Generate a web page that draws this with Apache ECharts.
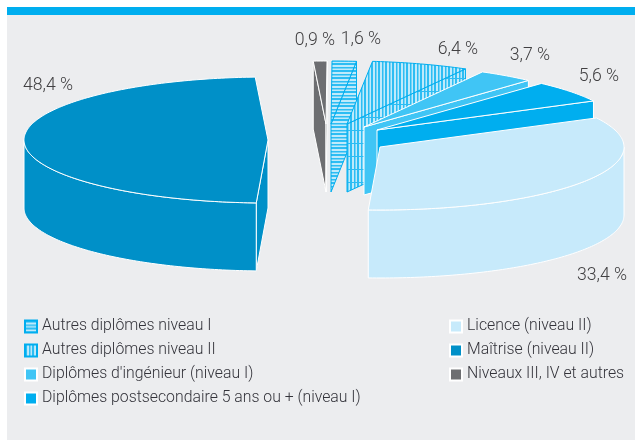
<!DOCTYPE html>
<html lang="fr">

<head>
  <meta charset="UTF-8">
  <title>Diplômes</title>
  <script src="https://cdn.jsdelivr.net/npm/echarts@6/dist/echarts.min.js"></script>
  <style>
    body { margin: 0; background: #fff; }
    #main { width: 635px; height: 441px; }
  </style>
</head>

<body>
  <div id="main"></div>
  <script>
    // clockwise order, starting from the grey slice
    let categories = [
      'Niveaux III, IV et autres',
      'Autres diplômes niveau I',
      'Autres diplômes niveau II',
      "Diplômes d'ingénieur (niveau I)",
      'Diplômes postsecondaire 5 ans ou + (niveau I)',
      'Licence (niveau II)',
      'Maîtrise (niveau II)'
    ];
    let shares = [0.9, 1.6, 6.4, 3.7, 5.6, 33.4, 48.4];

    // layout, kept apart from the data
    let legendLeft = [categories[1], categories[2], categories[3], categories[4]];
    let legendRight = [categories[5], categories[6], categories[0]];
    let firstAngle = -3;
    let rx = 244, ry = 63, depth = 68;
    let sliceCenters = [[326, 124], [331, 124], [347, 124], [364, 127], [377, 130], [380, 147], [268, 140]];
    let labelAt = [[315, 40], [361, 39], [458, 49], [530, 55], [599, 76], [602, 275], [48, 85]];
    let fontName = 'Roboto, sans-serif';

    function tile(w, h, draw) {
      let c = document.createElement('canvas');
      c.width = w;
      c.height = h;
      draw(c.getContext('2d'));
      return { image: c, repeat: 'repeat' };
    }
    let hatchH = tile(7, 7, g => {
      g.fillStyle = '#bfeafb'; g.fillRect(0, 0, 7, 7);
      g.fillStyle = '#2dbdf3'; g.fillRect(0, 0, 7, 2); g.fillRect(0, 4, 7, 1.5);
    });
    let hatchV = tile(7, 7, g => {
      g.fillStyle = '#bfeafb'; g.fillRect(0, 0, 7, 7);
      g.fillStyle = '#2dbdf3'; g.fillRect(0, 0, 2, 7); g.fillRect(4, 0, 1.5, 7);
    });
    let hatchVSide = tile(7, 13, g => {
      g.fillStyle = '#bfeafb'; g.fillRect(0, 0, 7, 13);
      g.fillStyle = '#2dbdf3'; g.fillRect(0, 0, 2, 13); g.fillRect(4, 0, 1.5, 13); g.fillRect(0, 0, 7, 1);
    });
    let fills = ['#6d6e71', hatchH, hatchV, '#40c5f5', '#00aeef', '#c7eafb', '#0090c8'];
    let sideFills = ['#6d6e71', hatchH, hatchVSide, '#40c5f5', '#00aeef', '#c7eafb', '#0090c8'];
    let edges = ['#fff', '#00aeef', '#00aeef', '#fff', '#fff', '#fff', '#fff'];

    let bounds = [];
    shares.reduce((acc, s) => {
      bounds.push([acc, acc + s * 3.6]);
      return acc + s * 3.6;
    }, firstAngle);

    function rimPoint(c, deg, drop) {
      let a = deg * Math.PI / 180;
      return [c[0] + rx * Math.sin(a), c[1] - ry * Math.cos(a) + (drop || 0)];
    }

    function arc(c, from, to, drop) {
      let pts = [];
      let n = Math.max(2, Math.ceil(Math.abs(to - from)));
      for (let i = 0; i <= n; i++) {
        pts.push(rimPoint(c, from + (to - from) * i / n, drop));
      }
      return pts;
    }

    function renderSlice(params, api) {
      let i = params.seriesIndex;
      let share = api.value(0);
      let c = sliceCenters[i];
      let start = bounds[i][0];
      let end = start + share * 3.6;
      let below = [c[0], c[1] + depth];
      let style = { fill: sideFills[i], stroke: edges[i], lineWidth: 1 };
      let children = [];

      function face(pts, st) {
        children.push({ type: 'polygon', shape: { points: pts }, style: st || style });
      }

      // cut faces that look towards the viewer
      if (Math.sin(start * Math.PI / 180) < 0) {
        face([c, rimPoint(c, start), rimPoint(c, start, depth), below]);
      }
      if (Math.sin(end * Math.PI / 180) > 0) {
        face([c, rimPoint(c, end), rimPoint(c, end, depth), below]);
      }
      // front part of the rim
      let a0 = Math.max(start, 90), a1 = Math.min(end, 270);
      if (a1 > a0) {
        face(arc(c, a0, a1).concat(arc(c, a1, a0, depth)));
      }
      // top
      face([c].concat(arc(c, start, end)), { fill: fills[i], stroke: edges[i], lineWidth: 1 });

      children.push({
        type: 'text',
        silent: true,
        x: labelAt[i][0],
        y: labelAt[i][1],
        scaleX: 0.93,
        style: {
          x: 0,
          y: 0,
          text: share.toFixed(1).replace('.', ',') + ' %',
          fill: '#414042',
          font: '300 19px ' + fontName,
          align: 'center',
          verticalAlign: 'middle'
        }
      });
      return { type: 'group', children: children };
    }

    let legendBase = {
      orient: 'vertical',
      selectedMode: false,
      icon: 'rect',
      itemWidth: 12,
      itemHeight: 12,
      itemGap: 7,
      padding: 0,
      textStyle: { fontFamily: fontName, fontWeight: 300, fontSize: 15.8, color: '#33333a', height: 17, lineHeight: 17 }
    };

    let dom = document.getElementById('main');
    let chart = echarts.init(dom);
    chart.setOption({
      animation: false,
      graphic: [
        { type: 'rect', z: -10, shape: { x: 7, y: 7, width: 628, height: 433 }, style: { fill: '#ecedef' } },
        { type: 'rect', z: -10, shape: { x: 7, y: 7, width: 628, height: 8 }, style: { fill: '#00aeef' } }
      ],
      legend: [
        Object.assign({}, legendBase, { left: 24, top: 318, data: legendLeft }),
        Object.assign({}, legendBase, { left: 449, top: 318, data: legendRight })
      ],
      series: categories.map((name, i) => ({
        type: 'custom',
        name: name,
        coordinateSystem: 'none',
        renderItem: renderSlice,
        itemStyle: { color: fills[i], borderColor: i === 1 || i === 2 ? '#00aeef' : '#fff', borderWidth: 1 },
        data: [[shares[i]]]
      }))
    });
  </script>
</body>

</html>
